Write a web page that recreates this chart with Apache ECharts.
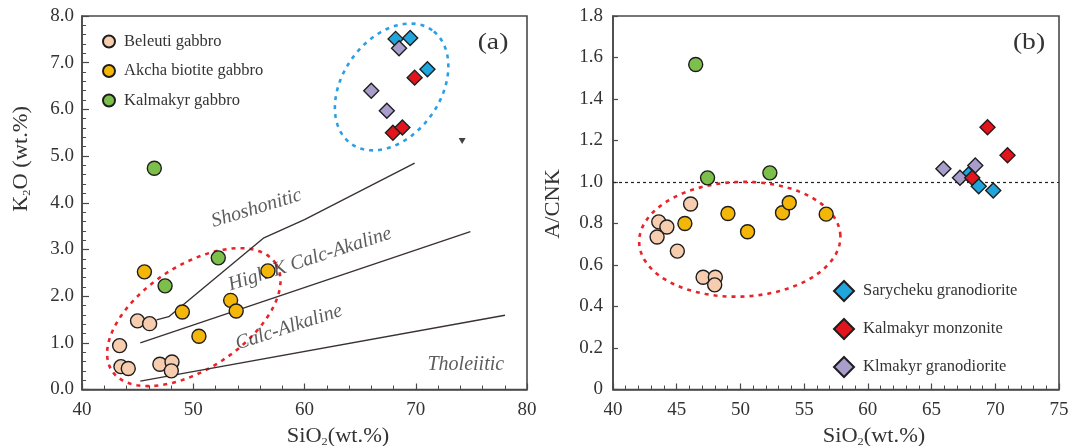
<!DOCTYPE html>
<html><head><meta charset="utf-8">
<script src="https://cdn.jsdelivr.net/npm/echarts@6/dist/echarts.min.js"></script>
<style>html,body{margin:0;padding:0;background:#fff}#c{width:1073px;height:446px}</style>
</head><body><div id="c"></div>
<script>
// ---------- Panel (a): SiO2 vs K2O ----------
const beleutiA   = [[44.99,1.47],[46.08,1.41],[43.38,0.94],[43.5,0.49],[44.16,0.45],[47.0,0.54],[48.09,0.59],[48.03,0.40]];
const akchaA     = [[45.61,2.52],[49.02,1.66],[53.36,1.91],[53.86,1.68],[50.51,1.14],[56.71,2.54]];
const kalGabbroA = [[46.5,4.74],[52.25,2.82],[47.47,2.22]];
const saryA      = [[68.19,7.51],[69.5,7.53],[71.05,6.86]];
const granoA     = [[68.5,7.31],[66.0,6.40],[67.4,5.97]];
const monzA      = [[69.9,6.68],[67.95,5.50],[68.8,5.61]];
const strayA     = [[74.17,5.32]];
// field boundary lines
const shoLine = [[46.7,1.49],[47.8,1.56],[56.3,3.24],[60.0,3.64],[69.9,4.85]];
const hkLine  = [[45.24,1.0],[74.91,3.38]];
const thLine  = [[45.24,0.18],[78.02,1.59]];
const fieldNames = ['Shoshonitic','High-K Calc-Akaline','Calc-Alkaline','Tholeiitic'];
const fieldX     = [55.7, 60.5, 58.6, 74.5];
const fieldY     = [3.88, 2.79, 1.33, 0.54];
const fieldTilt  = [17, 18, 18, 0];
// ---------- Panel (b): SiO2 vs A/CNK ----------
const beleutiB   = [[46.09,0.894],[43.59,0.808],[44.23,0.783],[43.46,0.735],[45.05,0.667],[47.07,0.541],[48.03,0.541],[47.98,0.504]];
const akchaB     = [[45.64,0.80],[49.02,0.848],[50.56,0.76],[53.30,0.852],[53.83,0.90],[56.73,0.845]];
const kalGabbroB = [[46.49,1.566],[47.42,1.02],[52.31,1.044]];
const saryB      = [[67.9,1.036],[68.7,0.979],[69.84,0.959]];
const granoB     = [[65.93,1.064],[67.23,1.02],[68.43,1.08]];
const monzB      = [[69.39,1.264],[70.96,1.129],[68.19,1.02]];
const acnkRef    = 1.0;
// group outlines: [centre x, centre y, semi-major (x units), semi-minor (x units), tilt deg]
const ellipseBlueA = [67.83, 6.48, 6.27, 4.38, 54.4];
const ellipseRedA  = [50.05, 1.55, 8.80, 4.66, 33.2];
const ellipseRedB  = [49.95, 0.724, 7.9, 4.50, 2];

const FONT = 'Liberation Serif';
const TXT = '#333';
const AXC = '#4a4a4a';
const C = {peach:'#F6CDAE', orange:'#F4B608', green:'#7CC04B', blue:'#21A5DD', red:'#E3141B', purple:'#A99DCB'};
const NAMES = {bel:'Beleuti gabbro', akc:'Akcha biotite gabbro', kal:'Kalmakyr gabbro',
  sar:'Sarycheku granodiorite', mon:'Kalmakyr monzonite', gra:'Klmakyr granodiorite'};

function pts(name, data, color, gi, symbol, size, z) {
  return {type:'scatter', name, data, xAxisIndex:gi, yAxisIndex:gi, symbol, symbolSize:size, z,
    itemStyle:{color, borderColor:'#1e1e1e', borderWidth:1.4, opacity:1}, emphasis:{disabled:true}};
}
function ellipse(e, gi, color) {
  return {type:'custom', xAxisIndex:gi, yAxisIndex:gi, data:[e], z:1, silent:true,
    renderItem:function(params, api){
      const c = api.coord([api.value(0), api.value(1)]);
      const ux = api.size([1,0])[0];
      const a = api.value(2)*ux, b = api.value(3)*ux, t = api.value(4)*Math.PI/180;
      const p = [];
      for (let i=0;i<120;i++){ const s = i/120*2*Math.PI;
        const dx = a*Math.cos(s), dy = b*Math.sin(s);
        p.push([c[0] + dx*Math.cos(t) - dy*Math.sin(t), c[1] - (dx*Math.sin(t) + dy*Math.cos(t))]); }
      return {type:'polygon', shape:{points:p}, style:{fill:null, stroke:color, lineWidth:2.6, lineDash:[4,5]}};
    }};
}
function bline(data) {
  return {type:'line', data, xAxisIndex:0, yAxisIndex:0, symbol:'none', silent:true, z:2,
    lineStyle:{color:'#3a3232', width:1.4}};
}
function xAx(gi, min, max, interval, labelFmt) {
  return {type:'value', gridIndex:gi, min, max, interval,
    axisLine:{show:true, onZero:false, lineStyle:{color:AXC, width:1.6}},
    axisTick:{show:true, inside:true, length:6, lineStyle:{color:AXC, width:1.2}},
    minorTick:{show:true, splitNumber:5, length:4, lineStyle:{color:AXC, width:1}},
    splitLine:{show:false}, minorSplitLine:{show:false},
    axisLabel:{fontFamily:FONT, fontSize:19, color:TXT, margin:11, formatter:labelFmt}};
}
function yAx(gi, min, max, interval, labelFmt, minor, margin) {
  return {type:'value', gridIndex:gi, min, max, interval,
    axisLine:{show:true, onZero:false, lineStyle:{color:AXC, width:1.6}},
    axisTick:{show:true, inside:true, length:minor?7:5, lineStyle:{color:AXC, width:1.2}},
    minorTick:{show:minor, splitNumber:5, length:4, lineStyle:{color:AXC, width:1}},
    splitLine:{show:false}, minorSplitLine:{show:false},
    axisLabel:{fontFamily:FONT, fontSize:19, color:TXT, margin, formatter:labelFmt}};
}

const fieldData = fieldNames.map((n,i)=>({name:n, value:[fieldX[i], fieldY[i]], label:{rotate:fieldTilt[i]}}));

const chart = echarts.init(document.getElementById('c'), null, {renderer:'canvas'});
chart.setOption({
  backgroundColor:'#fff',
  animation:false,
  grid:[
    {left:82, top:16, width:445, height:373.5, show:true, borderColor:AXC, borderWidth:1.6, backgroundColor:'transparent'},
    {left:613, top:16, width:446, height:373.5, show:true, borderColor:AXC, borderWidth:1.6, backgroundColor:'transparent'}
  ],
  xAxis:[
    xAx(0, 40, 80, 10, v=>String(v)),
    xAx(1, 40, 75, 5, v=>String(v))
  ],
  yAxis:[
    yAx(0, 0, 8, 1, v=>v.toFixed(1), true, 8),
    yAx(1, 0, 1.8, 0.2, v=>(Math.abs(v)<1e-9?'0':v.toFixed(1)), false, 10)
  ],
  legend:[
    {data:[NAMES.bel, NAMES.akc, NAMES.kal], orient:'vertical', left:102, top:33, padding:0, itemWidth:12, itemHeight:12, itemGap:12.5,
     selectedMode:false, textStyle:{fontFamily:FONT, fontSize:16.5, color:TXT, padding:[0,0,0,4]}},
    {data:[NAMES.sar, NAMES.mon, NAMES.gra], orient:'vertical', left:833, top:280, padding:0, itemWidth:20, itemHeight:20, itemGap:16,
     selectedMode:false, textStyle:{fontFamily:FONT, fontSize:16.5, color:TXT, padding:[0,0,0,4]}}
  ],
  series:[
    ellipse(ellipseBlueA, 0, '#2a9fe6'),
    ellipse(ellipseRedA, 0, '#e8242a'),
    ellipse(ellipseRedB, 1, '#e8242a'),
    bline(shoLine), bline(hkLine), bline(thLine),
    {type:'scatter', xAxisIndex:0, yAxisIndex:0, data:fieldData, symbolSize:1, silent:true, z:2,
     itemStyle:{color:'rgba(0,0,0,0)'},
     label:{show:true, position:'inside', formatter:p=>p.name, fontFamily:FONT, fontStyle:'italic', fontSize:20, color:TXT, align:'center', verticalAlign:'middle'}},
    pts(NAMES.bel, beleutiA, C.peach, 0, 'circle', 14, 4),
    pts(NAMES.akc, akchaA, C.orange, 0, 'circle', 14, 4),
    pts(NAMES.kal, kalGabbroA, C.green, 0, 'circle', 14, 4),
    pts(NAMES.sar, saryA, C.blue, 0, 'diamond', 15, 5),
    pts(NAMES.gra, granoA, C.purple, 0, 'diamond', 15, 5),
    pts(NAMES.mon, monzA, C.red, 0, 'diamond', 15, 5),
    {type:'scatter', xAxisIndex:0, yAxisIndex:0, data:strayA, symbol:'triangle', symbolRotate:180, symbolSize:[7,6], silent:true, z:5,
     itemStyle:{color:'#111'}},
    Object.assign(pts(NAMES.bel, beleutiB, C.peach, 1, 'circle', 14, 4), {
      markLine:{silent:true, symbol:['none','none'], label:{show:false}, z:1,
        lineStyle:{color:'#222', type:[3,3], width:1.2}, data:[{yAxis:acnkRef}]}}),
    pts(NAMES.akc, akchaB, C.orange, 1, 'circle', 14, 4),
    pts(NAMES.kal, kalGabbroB, C.green, 1, 'circle', 14, 4),
    pts(NAMES.sar, saryB, C.blue, 1, 'diamond', 15, 5),
    pts(NAMES.gra, granoB, C.purple, 1, 'diamond', 15, 5),
    pts(NAMES.mon, monzB, C.red, 1, 'diamond', 15, 5)
  ],
  graphic:[
    {type:'text', x:493, y:43, scaleX:1.15, style:{text:'(a)', fontFamily:FONT, fontSize:24, fill:TXT, align:'center', verticalAlign:'middle'}},
    {type:'text', x:1029, y:43, scaleX:1.15, style:{text:'(b)', fontFamily:FONT, fontSize:24, fill:TXT, align:'center', verticalAlign:'middle'}},
    {type:'text', x:22, y:159, rotation:Math.PI/2, scaleX:1.12, style:{text:'{m|K}{s|2}{m|O (wt.%)}', align:'center', verticalAlign:'middle', fill:TXT,
      rich:{m:{fontFamily:FONT, fontSize:20, lineHeight:22, verticalAlign:'middle', fill:TXT}, s:{fontFamily:FONT, fontSize:11, lineHeight:11, verticalAlign:'bottom', fill:TXT}}}},
    {type:'text', x:554, y:204, rotation:Math.PI/2, scaleX:1.12, style:{text:'A/CNK', fontFamily:FONT, fontSize:20, fill:TXT, align:'center', verticalAlign:'middle'}},
    {type:'text', x:338, y:437, scaleX:1.12, style:{text:'{m|SiO}{s|2}{m|(wt.%)}', align:'center', verticalAlign:'middle', fill:TXT,
      rich:{m:{fontFamily:FONT, fontSize:20, lineHeight:22, verticalAlign:'middle', fill:TXT}, s:{fontFamily:FONT, fontSize:11, lineHeight:11, verticalAlign:'bottom', fill:TXT}}}},
    {type:'text', x:874, y:437, scaleX:1.12, style:{text:'{m|SiO}{s|2}{m|(wt.%)}', align:'center', verticalAlign:'middle', fill:TXT,
      rich:{m:{fontFamily:FONT, fontSize:20, lineHeight:22, verticalAlign:'middle', fill:TXT}, s:{fontFamily:FONT, fontSize:11, lineHeight:11, verticalAlign:'bottom', fill:TXT}}}}
  ]
});
</script>
</body></html>
